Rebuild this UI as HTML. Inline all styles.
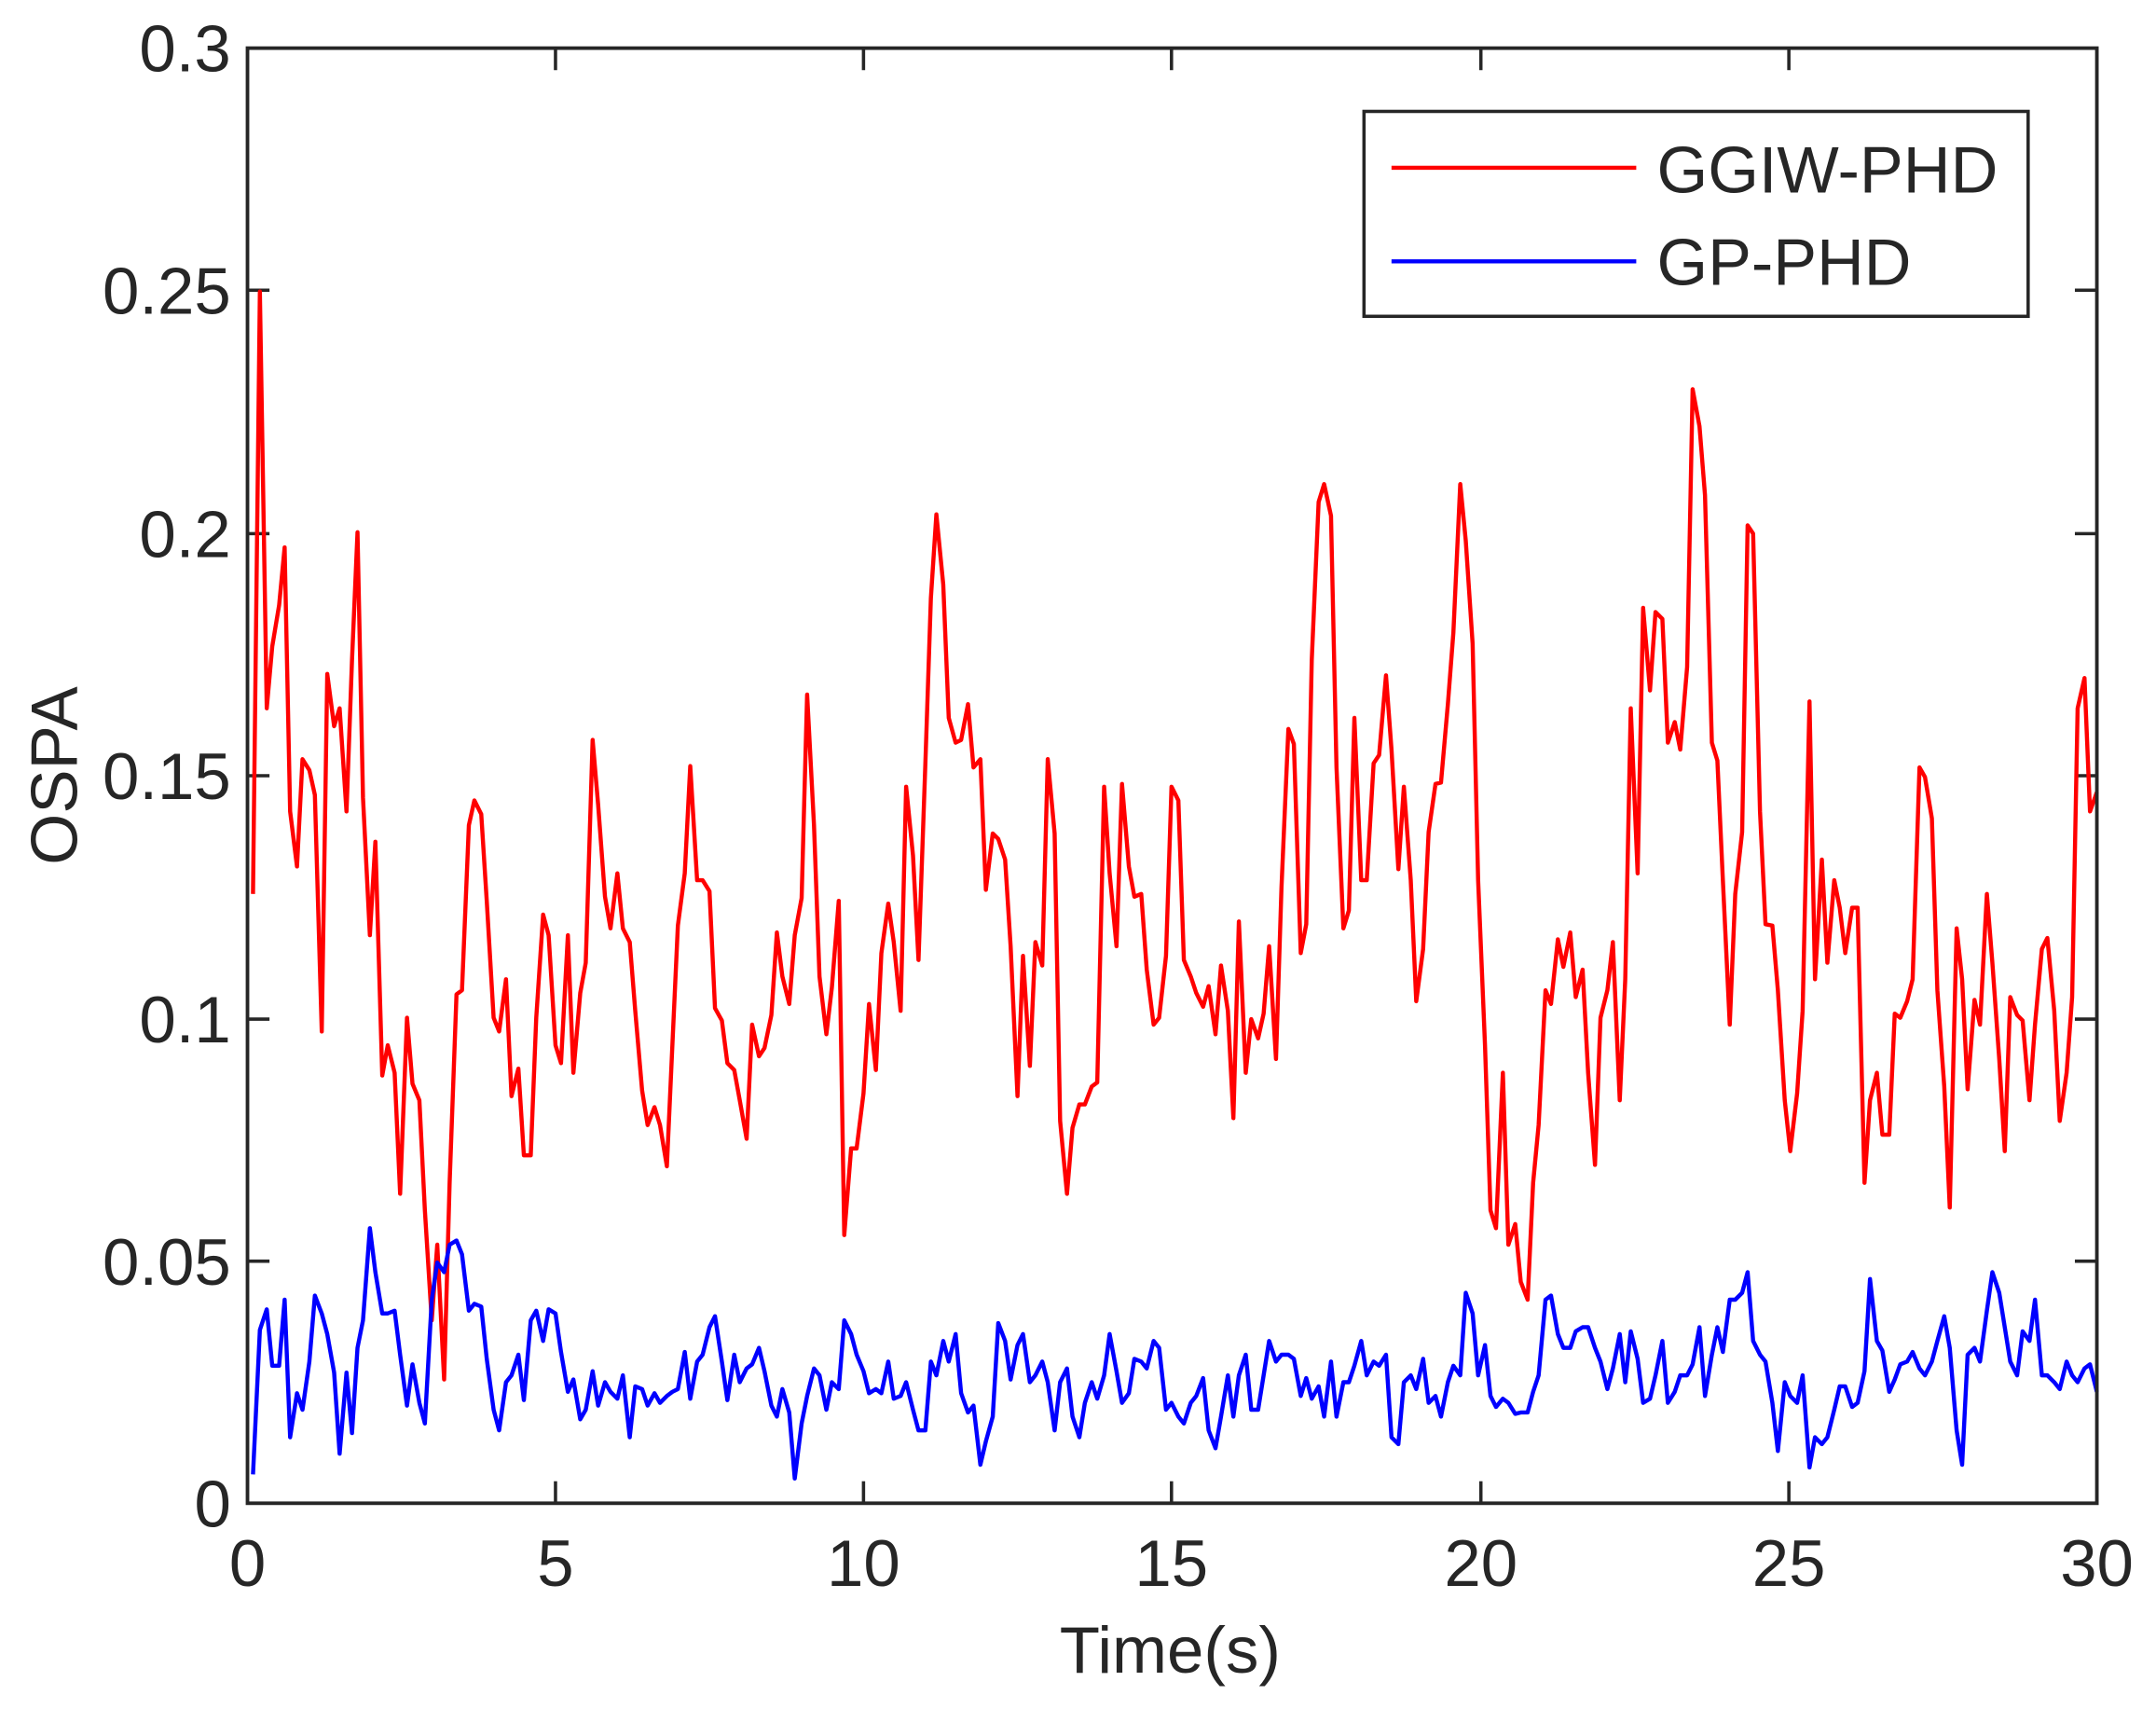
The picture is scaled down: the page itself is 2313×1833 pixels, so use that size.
<!DOCTYPE html>
<html><head><meta charset="utf-8"><style>
html,body{margin:0;padding:0;background:#fff;}
svg{display:block;}
text{font-family:"Liberation Sans",Arial,sans-serif;fill:#262626;}
</style></head><body>
<svg width="2313" height="1833" viewBox="0 0 1568 1242.6" xmlns="http://www.w3.org/2000/svg">
<rect x="0" y="0" width="1568" height="1242.6" fill="#fff"/>
<g stroke="#262626" stroke-width="2.4" fill="none">
<line x1="180" y1="211" x2="196" y2="211"/><line x1="180" y1="388" x2="196" y2="388"/><line x1="180" y1="564" x2="196" y2="564"/><line x1="180" y1="741" x2="196" y2="741"/><line x1="180" y1="917" x2="196" y2="917"/>
<line x1="1525" y1="211" x2="1509" y2="211"/><line x1="1525" y1="388" x2="1509" y2="388"/><line x1="1525" y1="564" x2="1509" y2="564"/><line x1="1525" y1="741" x2="1509" y2="741"/><line x1="1525" y1="917" x2="1509" y2="917"/>
<line x1="404" y1="1093" x2="404" y2="1077"/><line x1="628" y1="1093" x2="628" y2="1077"/><line x1="852" y1="1093" x2="852" y2="1077"/><line x1="1077" y1="1093" x2="1077" y2="1077"/><line x1="1301" y1="1093" x2="1301" y2="1077"/>
<line x1="404" y1="35" x2="404" y2="51"/><line x1="628" y1="35" x2="628" y2="51"/><line x1="852" y1="35" x2="852" y2="51"/><line x1="1077" y1="35" x2="1077" y2="51"/><line x1="1301" y1="35" x2="1301" y2="51"/>
</g>
<polyline fill="none" stroke="#ff0000" stroke-width="3" stroke-linejoin="round" points="184,650 189,212 194,515 198,470 203,440 207,398 211,590 216,630 220,552 225,560 229,578 234,750 238,490 243,528 247,515 252,590 256,480 260,387 264,580 269,680 273,612 278,782 282,760 287,780 291,868 296,740 300,788 305,800 309,880 314,960 318,905 323,1003 327,860 332,723 336,720 341,600 345,582 350,592 354,655 359,740 363,750 368,712 372,797 377,777 381,840 386,840 390,740 395,665 399,680 404,760 408,773 413,680 417,780 422,722 426,700 431,538 435,585 440,652 444,675 449,635 453,675 458,685 462,735 467,793 471,818 476,805 480,818 485,848 489,760 493,673 498,635 502,557 507,640 511,640 516,648 520,733 525,742 529,773 534,778 538,800 543,828 547,745 552,768 556,762 561,738 565,678 569,710 574,730 578,680 583,653 587,505 592,600 596,710 601,752 605,718 610,655 614,898 619,835 623,835 628,795 632,730 637,778 641,693 646,657 650,685 655,735 659,572 664,622 668,698 673,555 677,435 681,374 686,425 690,522 695,540 699,538 704,512 708,558 713,552 717,647 722,606 726,610 731,625 735,688 740,797 744,695 749,775 753,685 758,702 762,552 767,606 771,815 776,868 780,820 785,803 789,803 794,790 798,787 803,572 807,635 812,688 816,570 821,630 825,652 830,650 834,705 839,745 843,740 848,695 852,572 857,582 861,698 866,710 870,722 875,732 879,717 884,752 888,702 893,735 897,813 901,670 906,780 910,741 915,755 919,737 923,688 928,770 932,645 937,530 941,541 946,693 950,672 954,480 959,365 963,352 968,375 972,558 977,675 981,662 985,522 990,640 994,640 999,555 1003,549 1008,491 1012,545 1017,632 1021,572 1026,640 1030,728 1035,690 1039,605 1044,570 1048,569 1053,512 1057,460 1062,352 1066,393 1071,468 1075,640 1080,760 1084,880 1088,893 1093,780 1097,905 1102,890 1106,932 1111,945 1115,860 1119,818 1124,720 1128,730 1133,683 1137,703 1142,678 1146,725 1151,705 1155,780 1160,847 1164,740 1169,720 1173,685 1178,800 1182,712 1186,515 1191,635 1195,442 1200,502 1204,445 1209,450 1213,540 1218,525 1222,545 1227,485 1231,283 1236,310 1240,360 1245,540 1249,553 1253,640 1258,745 1262,650 1267,605 1271,382 1275,388 1280,590 1284,672 1289,673 1293,720 1298,800 1302,837 1307,795 1311,735 1316,510 1320,712 1325,625 1329,700 1334,640 1338,660 1342,693 1347,660 1351,660 1356,860 1360,800 1365,780 1369,825 1374,825 1378,737 1382,740 1387,728 1391,712 1396,558 1400,565 1405,595 1409,720 1414,790 1418,878 1423,675 1427,712 1431,792 1436,727 1440,745 1445,650 1449,700 1454,770 1458,837 1462,725 1467,738 1471,742 1476,800 1480,745 1485,690 1489,682 1494,735 1498,815 1503,780 1507,725 1511,515 1516,493 1520,590 1525,576"/>
<polyline fill="none" stroke="#0000ff" stroke-width="3" stroke-linejoin="round" points="184,1072 189,967 194,952 198,993 203,993 207,945 211,1045 216,1013 220,1025 225,990 229,942 234,955 238,970 243,998 247,1057 252,998 256,1042 260,980 264,960 269,893 273,925 278,955 282,955 287,953 291,985 296,1022 300,992 305,1020 309,1035 314,945 318,918 323,925 327,905 332,902 336,912 341,953 345,948 350,950 354,988 359,1025 363,1040 368,1005 372,1000 377,985 381,1018 386,960 390,953 395,975 399,952 404,955 408,983 413,1012 417,1003 422,1032 426,1025 431,997 435,1022 440,1005 444,1012 449,1017 453,1000 458,1045 462,1008 467,1010 471,1022 476,1013 480,1020 485,1015 489,1012 493,1010 498,983 502,1017 507,990 511,985 516,965 520,957 525,990 529,1018 534,985 538,1005 543,995 547,992 552,980 556,997 561,1022 565,1030 569,1010 574,1027 578,1075 583,1035 587,1015 592,995 596,1000 601,1025 605,1005 610,1010 614,960 619,970 623,985 628,997 632,1013 637,1010 641,1013 646,990 650,1017 655,1015 659,1005 664,1025 668,1040 673,1040 677,990 681,1000 686,975 690,990 695,970 699,1013 704,1027 708,1022 713,1065 717,1048 722,1030 726,962 731,975 735,1003 740,978 744,970 749,1005 753,1000 758,990 762,1005 767,1040 771,1005 776,995 780,1030 785,1045 789,1020 794,1005 798,1017 803,1000 807,970 812,997 816,1020 821,1013 825,988 830,990 834,995 839,975 843,980 848,1025 852,1020 857,1030 861,1035 866,1020 870,1015 875,1002 879,1040 884,1053 888,1030 893,1000 897,1030 901,1000 906,985 910,1025 915,1025 919,1000 923,975 928,990 932,985 937,985 941,988 946,1015 950,1002 954,1017 959,1008 963,1030 968,990 972,1030 977,1005 981,1005 985,993 990,975 994,1000 999,990 1003,993 1008,985 1012,1045 1017,1050 1021,1005 1026,1000 1030,1010 1035,988 1039,1020 1044,1015 1048,1030 1053,1005 1057,993 1062,1000 1066,940 1071,955 1075,1000 1080,978 1084,1015 1088,1023 1093,1017 1097,1020 1102,1028 1106,1027 1111,1027 1115,1012 1119,1000 1124,945 1128,942 1133,970 1137,980 1142,980 1146,968 1151,965 1155,965 1160,980 1164,990 1169,1010 1173,995 1178,970 1182,1005 1186,968 1191,988 1195,1020 1200,1017 1204,1000 1209,975 1213,1020 1218,1012 1222,1000 1227,1000 1231,992 1236,965 1240,1015 1245,985 1249,965 1253,983 1258,945 1262,945 1267,940 1271,925 1275,975 1280,985 1284,990 1289,1020 1293,1055 1298,1005 1302,1015 1307,1020 1311,1000 1316,1067 1320,1045 1325,1050 1329,1045 1334,1025 1338,1008 1342,1008 1347,1023 1351,1020 1356,997 1360,930 1365,975 1369,982 1374,1012 1378,1003 1382,992 1387,990 1391,983 1396,995 1400,1000 1405,990 1409,975 1414,957 1418,980 1423,1040 1427,1065 1431,985 1436,980 1440,990 1445,953 1449,925 1454,940 1458,965 1462,990 1467,1000 1471,968 1476,975 1480,945 1485,1000 1489,1000 1494,1005 1498,1010 1503,990 1507,1000 1511,1005 1516,995 1520,992 1525,1012"/>
<rect x="180" y="35" width="1345" height="1058" fill="none" stroke="#262626" stroke-width="2.6"/>
<g font-size="48" text-anchor="end">
<text x="168" y="52">0.3</text><text x="168" y="228">0.25</text><text x="168" y="405">0.2</text><text x="168" y="581">0.15</text><text x="168" y="758">0.1</text><text x="168" y="934">0.05</text><text x="168" y="1110">0</text>
</g>
<g font-size="48" text-anchor="middle">
<text x="180" y="1153">0</text><text x="404" y="1153">5</text><text x="628" y="1153">10</text><text x="852" y="1153">15</text><text x="1077" y="1153">20</text><text x="1301" y="1153">25</text><text x="1525" y="1153">30</text>
<text x="851" y="1216">Time(s)</text>
<text x="0" y="0" transform="translate(56,564) rotate(-90)">OSPA</text>
</g>
<rect x="992" y="81" width="483" height="149" fill="#fff" stroke="#262626" stroke-width="2.4"/>
<line x1="1012" y1="122" x2="1190" y2="122" stroke="#ff0000" stroke-width="3"/>
<line x1="1012" y1="190" x2="1190" y2="190" stroke="#0000ff" stroke-width="3"/>
<text x="1205" y="140" font-size="48" textLength="248" lengthAdjust="spacingAndGlyphs" fill="#000">GGIW-PHD</text>
<text x="1205" y="207" font-size="48" textLength="185" lengthAdjust="spacingAndGlyphs" fill="#000">GP-PHD</text>
</svg>
</body></html>
